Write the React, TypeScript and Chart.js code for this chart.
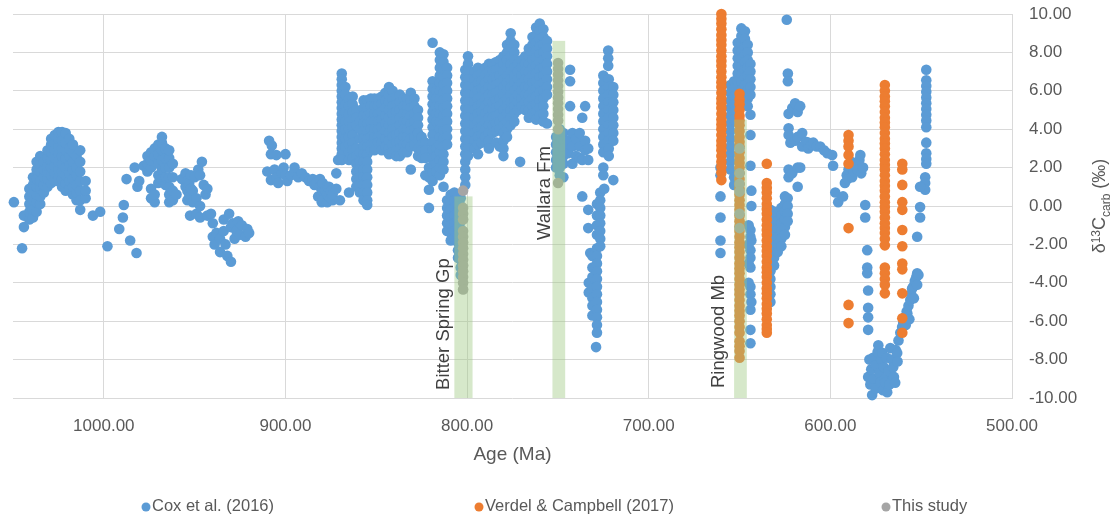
import React, { useEffect, useRef } from 'react';
import { Chart, registerables } from 'chart.js';

Chart.register(...registerables);

const FONT = "'Liberation Sans', Arial, sans-serif";
const AXIS_COLOR = '#595959';
const GRID_COLOR = '#d9d9d9';

// ---- axis ticks ----
const xTickValues = [1000, 900, 800, 700, 600, 500];
const xRange = [500, 1050];
const yRange = [-10, 10];
const yStep = 2;

// ---- series (age Ma, list of d13C values read at that age) ----
type Col = [number, number[]];

const coxEarly: Col[] = [
  [1049.5, [0.2]], [1045, [-2.2]], [1044, [-1.1, -0.5]],
  [1041, [-0.7, -0.3, 0.1, 0.5, 0.9]],
  [1039, [-0.6, -0.2, 0.3, 0.7, 1.1, 1.5]],
  [1037, [-0.3, 0.2, 0.6, 1.0, 1.4, 1.9, 2.3]],
  [1035, [0.1, 0.5, 0.9, 1.3, 1.8, 2.2, 2.6]],
  [1033, [0.7, 1.1, 1.5, 1.9, 2.3]],
  [1031, [1.0, 1.4, 1.8, 2.1, 2.5, 2.9]],
  [1029, [1.2, 1.6, 2.0, 2.4, 2.8, 3.2, 3.5]],
  [1027, [1.3, 1.7, 2.1, 2.5, 2.9, 3.3, 3.7]],
  [1025, [1.5, 1.9, 2.3, 2.7, 3.1, 3.5, 3.85]],
  [1023, [1.0, 1.4, 1.8, 2.2, 2.6, 3.0, 3.4, 3.85]],
  [1021, [0.8, 1.2, 1.6, 2.0, 2.5, 2.9, 3.3, 3.8]],
  [1019, [0.9, 1.3, 1.7, 2.1, 2.6, 3.0, 3.5]],
  [1017, [0.6, 1.0, 1.4, 1.9, 2.3, 2.8, 3.2]],
  [1015, [0.3, 0.7, 1.1, 1.6, 2.0, 2.6]],
  [1013, [-0.2, 0.3, 0.8, 1.3, 1.8, 2.3, 2.9]],
  [1010, [0.4, 0.8, 1.3]],
  [1006, [-0.5]], [1002, [-0.3]], [998, [-2.1]],
  [991.5, [-1.2]], [989.5, [-0.6]], [989, [0.05]], [987.5, [1.4]], [985.5, [-1.8]],
  [982, [-2.45]], [983, [2.0]], [981.5, [1.0]], [980.5, [1.3]], [978, [2.1]],
  [976, [1.8, 2.2, 2.6]],
  [974, [0.4, 0.9, 2.0, 2.4, 2.8]],
  [972, [0.2, 0.6, 2.6, 3.0]],
  [970, [1.2, 1.6, 2.2, 2.7, 3.2]],
  [968, [1.4, 1.9, 2.4, 2.9, 3.3, 3.6]],
  [966, [1.1, 1.5, 2.0, 2.5, 3.0]],
  [964, [0.2, 0.6, 1.0, 1.5, 2.0, 2.5, 2.9]],
  [962, [0.3, 0.8, 1.5, 2.2]],
  [960, [0.6]],
  [957, [1.4]], [955, [1.0, 1.7]], [954, [0.3, 0.8, 1.3]], [953, [0.5, 1.2]], [952.5, [-0.5]],
  [952, [0.9, 1.6]], [951, [0.2, 0.8]], [950, [1.5]], [949, [-0.4, 0.4]], [948, [1.9]],
  [947, [-0.6, 0.0, 1.6]], [946, [2.3]], [945, [1.1]], [944, [0.6]], [943, [-0.5, 0.9]], [941, [-0.4]],
  [940, [-1.6, -0.9]], [939, [-2.0]], [938, [-1.4]], [936, [-2.4, -1.7]], [934, [-1.3, -0.7]],
  [933, [-2.0]], [932, [-2.6]], [931, [-0.4]], [930, [-2.9, -1.1]], [929, [-0.9]], [928, [-1.7]],
  [927, [-1.3]], [926, [-0.8]], [925, [-1.5]], [924, [-1.0]], [922, [-1.6]], [921, [-1.2]], [920, [-1.4]],
];

const coxMid: Col[] = [
  [909, [3.4]], [907.5, [3.15]], [908, [2.7, 1.35]], [910, [1.8]], [906, [1.9]], [905, [1.5, 2.65]],
  [904, [1.2]], [902, [1.7]], [901, [2.0]], [900, [2.7, 1.6]], [899, [1.3]], [897, [1.6]],
  [895, [1.8, 2.0]], [893, [1.5]], [891, [1.7]], [889, [1.5]], [887, [1.3]], [885, [1.4]],
  [884, [1.1]], [883, [1.2]], [882, [0.5]], [881, [1.0, 1.4]], [880, [0.2, 0.6, 1.1]],
  [879.5, [0.3, 0.8, 1.2]], [878, [0.8]], [877, [0.2, 0.6, 1.0]], [876, [0.5, 1.0]], [875, [0.4, 0.8]],
  [874, [0.3, 0.6]], [872, [1.7, 0.9]], [871, [2.4]], [870, [0.3]],
  [869, [6.9, 6.6, 6.3, 6.0, 5.7, 5.4, 5.1, 4.8, 4.5, 4.2, 3.9, 3.6, 3.3, 3.0, 2.7, 2.4]],
  [867, [6.2, 5.8, 5.3, 4.9, 4.4, 4.0, 3.5, 3.1]],
  [865, [5.6, 5.2, 4.8, 4.4, 4.0, 3.6, 3.2, 2.8, 2.4, 0.7]],
  [863, [5.7, 5.3, 4.9, 4.5, 4.1, 3.7, 3.3, 2.9, 2.5]],
  [861, [5.0, 4.6, 4.2, 3.0, 2.6, 2.2, 1.8, 1.4, 1.0]],
  [859, [4.4, 4.0, 3.5, 2.8, 2.3, 1.9, 1.5, 1.1, 0.7]],
  [857, [5.5, 5.1, 4.7, 4.3, 3.9, 3.5, 3.1, 2.7, 2.3, 1.9, 1.5, 1.1, 0.7, 0.3]],
  [855, [5.5, 5.1, 4.7, 4.3, 3.9, 3.5, 3.1, 2.7, 2.3, 1.9, 1.5, 1.1, 0.7, 0.3, 0.05]],
  [853, [5.6, 5.2, 4.8, 4.4, 4.0, 3.6, 3.2, 2.9]],
  [851, [5.6, 5.2, 4.8, 4.4, 4.0, 3.6, 3.2, 2.9]],
  [849, [5.6, 5.2, 4.8, 4.4, 4.0, 3.6, 3.3]],
  [847, [5.7, 5.3, 4.9, 4.5, 4.1, 3.7, 3.3, 2.9]],
  [845, [5.9, 5.5, 5.1, 4.7, 4.3, 3.9, 3.5, 3.1]],
  [843, [6.2, 5.8, 5.4, 5.0, 4.6, 4.2, 3.8, 3.4, 3.0, 2.7]],
  [841, [6.0, 5.6, 5.2, 4.8, 4.4, 4.0, 3.6, 3.2, 2.8]],
  [839, [5.7, 5.3, 4.9, 4.5, 4.1, 3.7, 3.3, 2.9, 2.6]],
  [837, [5.8, 5.4, 5.0, 4.6, 4.2, 3.8, 3.4, 3.0, 2.6]],
  [835, [5.6, 5.2, 4.8, 4.4, 4.0, 3.6, 3.2, 2.8]],
  [833, [5.6, 5.2, 4.8, 4.4, 4.0, 3.6, 3.2, 2.8]],
  [831, [5.9, 5.5, 5.1, 4.7, 4.3, 3.9, 3.5, 3.1, 1.9]],
  [829, [5.6, 5.2, 4.8, 4.4, 4.0, 3.6, 3.2]],
  [827, [5.0, 4.6, 4.2, 3.8, 3.4, 3.0, 2.6]],
  [825, [3.6, 3.2, 2.9, 2.5]],
  [823, [3.3, 2.9, 2.5, 1.6]],
  [821, [2.0, 1.5, 0.85, -0.1]],
  [819, [8.5, 6.5, 6.1, 5.7, 5.3, 4.9, 4.5, 4.1, 3.7, 3.3, 2.9, 2.5, 2.1, 1.7, 1.3]],
  [817, [6.0, 5.6, 5.2, 4.8, 4.4, 3.0, 2.6, 2.2, 1.8]],
  [815, [8.0, 7.6, 7.2, 6.8, 6.4, 6.0, 5.6, 5.2, 4.8, 4.4, 4.0, 3.6, 3.2, 2.8, 2.4, 2.0, 1.6]],
  [813, [7.9, 7.5, 7.1, 6.7, 6.3, 5.9, 5.5, 5.1, 4.7, 4.3, 3.9, 3.5, 3.1, 2.7, 2.3, 1.9, 1.0]],
  [811, [7.2, 6.8, 6.4, 6.0, 5.6, 5.2, 4.8, 4.4, 4.0, 3.6, 3.2, 0.3, -0.1, -0.5, -0.9, -1.3]],
  [809, [0.6, 0.2, -0.2, -0.6, -1.0, -1.4, -1.8]],
  [807, [0.7, 0.3, -0.1, -0.5, -0.9, -1.3, -1.7]],
  [805, [0.5, 0.1, -0.3, -0.7, -1.1, -1.5, -1.9, -2.3, -2.7]],
  [803.5, [0.4, 0.0, -0.4, -0.8, -1.2, -1.6, -2.0, -2.4, -2.8, -3.2, -3.6]],
  [801, [7.1, 6.7, 6.3, 5.9, 5.5, 5.1, 4.7, 4.3, 3.9, 3.5, 3.1, 2.7, 2.3, 1.9, 1.5, 1.1]],
  [799.5, [7.8, 7.4, 7.0, 6.6, 6.2, 5.8, 5.4, 5.0, 4.6, 4.2, 3.8, 3.4, 3.0, 2.6]],
];

const coxLate: Col[] = [
  [796, [7.0, 6.6, 6.2, 5.8, 5.4, 5.0, 4.6, 4.2, 3.8, 3.4, 3.0]],
  [794, [7.2, 6.8, 6.4, 6.0, 5.6, 5.2, 4.8, 4.4, 4.0, 3.6, 3.2, 2.7]],
  [792, [6.9, 6.5, 6.1, 5.7, 5.3, 4.9, 4.5, 4.1, 3.7, 3.3]],
  [790, [7.2, 6.8, 6.4, 6.0, 5.6, 5.2, 4.8, 4.4, 4.0, 3.6]],
  [788, [7.4, 7.0, 6.6, 6.2, 5.8, 5.4, 5.0, 4.6, 4.2, 3.8, 3.4, 3.0]],
  [786, [7.4, 7.0, 6.6, 6.2, 5.8, 5.4, 5.0, 4.6, 4.2, 3.8]],
  [784, [7.5, 7.1, 6.7, 6.3, 5.9, 5.5, 5.1, 4.7, 4.3, 3.9, 3.3]],
  [782, [7.6, 7.2, 6.8, 6.4, 6.0, 5.6, 5.2, 4.8, 4.4, 4.0, 3.1]],
  [780, [7.8, 7.4, 7.0, 6.6, 6.2, 5.8, 5.4, 5.0, 4.6, 4.2, 3.8, 3.4, 3.0, 2.6]],
  [778, [8.4, 8.0, 7.6, 7.2, 6.8, 6.4, 6.0, 5.6, 5.2, 4.8, 4.4, 4.0, 3.6]],
  [776, [9.0, 8.6, 8.2, 7.8, 7.4, 7.0, 6.6, 6.2, 5.8, 5.4, 5.0, 4.6, 4.2]],
  [774, [8.4, 8.0, 7.6, 7.2, 6.8, 6.4, 6.0, 5.6, 5.2, 4.8, 4.4]],
  [772, [7.4, 7.0, 6.6, 6.2, 5.8, 5.4, 5.0]],
  [770.8, [2.3]],
  [770, [7.6, 7.2, 6.8, 6.4, 6.0, 5.6, 5.2]],
  [768, [7.8, 7.4, 7.0, 6.6, 6.2, 5.8, 5.4, 5.0]],
  [766, [8.2, 7.8, 7.4, 7.0, 6.6, 6.2, 5.8, 5.4, 5.0, 4.6]],
  [764, [8.8, 8.4, 8.0, 7.6, 7.2, 6.8, 6.4, 6.0, 5.6, 5.2, 4.8]],
  [762, [9.3, 8.9, 8.5, 8.1, 7.7, 7.3, 6.9, 6.5, 6.1, 5.7, 5.3, 4.9, 4.5]],
  [760, [9.5, 9.1, 8.7, 8.3, 7.9, 7.5, 7.1, 6.7, 6.3, 5.9, 5.5, 5.1, 4.7]],
  [758, [9.2, 8.8, 8.4, 8.0, 7.6, 7.2, 6.8, 6.4, 6.0, 5.6, 5.2, 4.8, 4.4]],
  [756, [8.6, 8.2, 7.8, 7.4, 7.0, 6.6, 6.2, 5.8, 4.3]],
  [751, [3.6, 3.2, 2.8, 2.4, 2.0]],
  [749, [4.0, 3.6, 3.2, 2.8, 2.4, 2.0, 1.6]],
  [747, [3.8, 3.4, 3.0, 2.6, 2.2, 1.5]],
  [744.4, [3.4, 2.75]],
  [743.3, [7.1, 6.5, 5.2]],
  [742, [3.8, 3.1, 2.2]],
  [740, [3.5, 2.6]],
  [738, [3.8, 3.1, 2.5]],
  [736.6, [4.6, 2.4, 0.5]],
  [735, [5.2, 3.4, 2.9]],
  [733.3, [3.0, 2.4, -0.2, -1.15]],
  [732.2, [-2.45]],
  [733, [-4.0, -4.5]],
  [731, [-2.6, -3.2, -3.7, -4.3, -4.8, -5.2, -5.7]],
  [729, [-7.35]],
  [728.5, [0.1, -0.5, -1.0, -1.5, -2.2, -2.6, -3.0, -3.4, -3.8, -4.2, -4.6, -5.0, -5.4, -5.8, -6.2, -6.6]],
  [726.7, [0.7, 0.3, -0.1, -0.5, -0.9, -1.3, -1.7, -2.1]],
  [724.5, [0.9]],
  [725, [6.8, 6.4, 6.0, 5.6, 5.2, 4.8, 4.4, 4.0, 3.6, 3.2, 2.8, 2.0, 1.6]],
  [722.3, [8.1, 7.7, 7.3]],
  [722, [6.6, 6.2, 5.8, 5.4, 5.0, 4.6, 4.2, 3.8, 3.4, 3.0, 2.6]],
  [719.5, [6.2, 5.8, 5.4, 5.0, 4.6, 4.2, 3.8, 3.4, 1.35]],
];

const coxYoung: Col[] = [
  [660.5, [2.0, 1.6, 0.5, -0.6, -1.8, -2.45]],
  [655, [6.3, 5.9, 5.5, 5.1, 4.7, 4.3, 3.9, 3.5, 3.1, 2.7, 2.3, 1.9]],
  [653, [6.5, 6.1, 5.7, 5.3, 4.9, 4.5, 1.5, 1.1]],
  [651, [8.5, 8.1, 7.7, 7.3, 6.9, 6.5]],
  [649, [9.25, 8.85, 8.45, 8.05, 7.65, 7.25, 6.85, 6.45, 6.05]],
  [647, [9.1, 8.7, 8.3, 7.9, 7.5, 7.1, 6.7, 6.3, 5.9]],
  [645.5, [8.4, 8.0, 7.6, 7.2, 6.8, 6.4, 6.0, 5.6, 5.2]],
  [644, [7.4, 7.0, 6.6, 6.2, 5.8, 4.75, 3.7, 2.1, -1.25, -1.6, -2.3, -2.7, -3.2, -4.2, -4.6, -5.4, -6.45, -7.15]],
  [643.5, [0.8, 0.0, -1.8, -5.0]],
  [645, [-2.0, -3.0, -4.0, -1.0]],
  [633, [-0.2, -0.6, -1.0, -1.4, -1.8, -2.2, -2.6, -3.0, -3.4, -3.8, -4.2, -4.6, -5.0]],
  [631, [-0.3, -0.7, -1.1, -1.5, -1.9, -2.3, -2.7, -3.1]],
  [629, [-0.4, -0.8, -1.2, -1.6, -2.0, -2.4]],
  [627, [-0.1, -0.5, -0.9, -1.3, -1.7, -2.1]],
  [625, [0.5, 0.1, -0.3, -0.7, -1.1, -1.5]],
  [623.5, [0.4, 0.0, -0.4, -0.8]],
  [624, [9.7]],
  [623.4, [6.9, 6.5]],
  [623, [4.8, 4.05, 3.7, 1.9, 1.5]],
  [622, [3.3]], [621, [5.1, 1.7]], [619.4, [5.35, 3.4]], [618, [4.9, 3.6, 2.0, 1.0]],
  [616.6, [5.2, 2.0]], [615.5, [3.8, 3.1]], [613.5, [3.35]], [612.2, [3.3, 3.0]], [610.5, [3.2]],
  [609.4, [3.3]], [607.5, [3.1]], [605.6, [3.1]], [603.5, [2.9]], [601.7, [2.75]], [599, [2.65]],
  [598.5, [2.1]], [597.3, [0.7]], [595.7, [0.2]], [593, [0.5]],
  [592, [1.2]], [591, [1.6]], [590.5, [1.4]], [590, [1.9]], [589, [2.0]], [588.5, [2.3]], [588, [1.5]],
  [587, [1.8]], [586, [2.2]], [585, [1.9]], [584, [2.4]], [583.5, [2.65]], [583, [1.7]], [582, [2.0]],
  [580.8, [0.05, -0.6]],
  [579.7, [-2.3, -3.2, -3.5]],
  [579.2, [-4.4, -5.3, -5.8, -6.45, -8.9]],
  [578.5, [-8.0]], [578, [-9.3]], [577, [-9.85]], [577.5, [-8.5]], [576.5, [-7.9]], [576, [-9.0]],
  [575, [-8.3, -9.5]], [574, [-7.6]], [573.6, [-7.25]], [573, [-8.7]], [572.5, [-9.2]], [572, [-8.0]],
  [571.4, [-7.65]], [571, [-9.6]], [570.5, [-8.4]], [570, [-9.0]], [569.8, [-9.2]], [569, [-7.9]],
  [568.7, [-9.7]], [568, [-8.6]], [567.5, [-9.3]], [567, [-7.4]], [566, [-8.0]], [565.4, [-8.4]],
  [565, [-8.9]], [564.3, [-9.2]], [564, [-7.5]], [563.2, [-7.65]], [563, [-8.1]], [562.5, [-7.0]],
  [561.5, [-6.6]], [560.5, [-6.3]], [559.9, [-6.1]], [559, [-5.8]], [558.5, [-6.2]], [558, [-5.5]],
  [557.6, [-5.6]], [557, [-5.2]], [556.5, [-5.9]], [556, [-4.9]], [555.5, [-4.6]], [555, [-4.3]],
  [554.4, [-4.2]], [554, [-4.8]], [553.5, [-3.9]], [552.7, [-3.7]], [552.2, [-3.5, -4.1, -1.6]], [551.5, [-3.6]],
  [547.2, [7.1, 6.55, 6.25, 5.95, 5.65, 5.35, 5.05, 4.75, 4.45, 4.1, 3.3, 2.75, 2.45, 2.2]],
  [547.8, [1.5, 1.2, 0.85]],
  [550.6, [1.0, -0.05, -0.6]],
];

const verdel: Col[] = [
  [660, [10.0, 9.75, 9.5, 9.2, 8.9, 8.65, 8.4, 8.1, 7.8, 7.55, 7.3, 7.0, 6.7, 6.45, 6.2, 5.9, 5.6, 5.35, 5.1, 4.8, 4.5, 4.25, 4.0, 3.7, 3.4, 3.15, 2.9, 2.6, 2.3, 2.05, 1.75, 1.35]],
  [650, [5.85, 5.55, 5.3, 5.0, 4.7, 4.45, 4.2, 3.9, 3.6, 3.35, 3.1, 2.8, 2.5, 2.25, 2.0, 1.7, 1.4, 1.15, 0.9, 0.6, 0.3, 0.05, -0.2, -0.5, -0.8, -1.05, -1.3, -1.6, -1.9, -2.15, -2.4, -2.7, -3.0, -3.25, -3.5, -3.8, -4.1, -4.35, -4.6, -4.9, -5.2, -5.45, -5.7, -6.0, -6.3, -6.6, -7.05, -7.3, -7.55, -7.9]],
  [635, [2.2, 1.2, 0.95, 0.7, 0.4, 0.1, -0.15, -0.4, -0.7, -1.0, -1.25, -1.5, -1.8, -2.1, -2.35, -2.6, -2.9, -3.2, -3.45, -3.7, -4.0, -4.3, -4.55, -4.8, -5.1, -5.35, -5.6, -5.9, -6.2, -6.4, -6.6]],
  [590, [3.7, 3.4, 3.1, 2.65, 2.2, -1.15, -5.15, -6.1]],
  [570, [6.3, 6.0, 5.7, 5.45, 5.2, 4.9, 4.6, 4.35, 4.1, 3.8, 3.5, 3.25, 3.0, 2.7, 2.4, 2.15, 1.9, 1.6, 1.3, 1.05, 0.8, 0.5, 0.2, -0.05, -0.3, -0.6, -0.9, -1.15, -1.4, -1.7, -2.05, -3.2, -3.5, -3.8, -4.1, -4.55]],
  [560.4, [2.2, 1.9, 1.1, 0.2, -0.2, -1.25, -2.1, -3.0, -3.3, -4.55, -5.85, -6.6]],
];

const thisStudy: Col[] = [
  [802.2, [0.8, -0.1, -0.4, -0.7, -1.3, -1.6, -1.9, -2.2, -2.5, -2.8, -3.1, -3.4, -3.7, -4.0, -4.35]],
  [749.9, [7.45, 7.15, 6.85, 6.55, 6.25, 5.95, 5.65, 5.35, 5.05, 4.75, 4.45, 4.0, 1.2]],
  [650, [3.0, 1.7, 1.15, 0.75, -0.4, -1.15]],
];

// ---- highlighted intervals ----
const bandNames = ['Bitter Spring Gp', 'Wallara Fm', 'Ringwood Mb'];
const bandOld = [807, 753, 653];
const bandYoung = [797, 746, 646];
const bandTop = [0.5, 8.6, 4.5];
const labelAge = [813, 757, 661.2];
const labelStart = [-9.58, -1.77, -9.48];

const seriesNames = ['Cox et al. (2016)', 'Verdel & Campbell (2017)', 'This study'];
const seriesColors = ['#5B9BD5', '#ED7D31', '#A5A5A5'];

const toPoints = (cols: Col[]) => cols.flatMap(([x, ys]) => ys.map((y) => ({ x, y })));

const legendX = [146, 479, 886];

const overlayPlugin = {
  id: 'overlay',
  afterDatasetsDraw(chart: any) {
    const { ctx, scales } = chart;
    const x = scales.x;
    const y = scales.y;
    ctx.save();
    ctx.fillStyle = 'rgba(157,200,128,0.42)';
    for (let i = 0; i < bandNames.length; i++) {
      const x1 = x.getPixelForValue(bandOld[i]);
      const x2 = x.getPixelForValue(bandYoung[i]);
      const yt = y.getPixelForValue(bandTop[i]);
      const yb = y.getPixelForValue(yRange[0]);
      ctx.fillRect(Math.min(x1, x2), yt, Math.abs(x2 - x1), yb - yt);
    }
    ctx.fillStyle = '#404040';
    ctx.font = `18.5px ${FONT}`;
    ctx.textBaseline = 'middle';
    ctx.textAlign = 'left';
    for (let i = 0; i < bandNames.length; i++) {
      const px = x.getPixelForValue(labelAge[i]);
      const py = y.getPixelForValue(labelStart[i]);
      ctx.save();
      ctx.translate(px, py);
      ctx.rotate(-Math.PI / 2);
      ctx.fillText(bandNames[i], 0, 0);
      ctx.restore();
    }
    ctx.restore();
  },
  afterDraw(chart: any) {
    const { ctx, chartArea } = chart;
    ctx.save();
    // x title
    ctx.fillStyle = AXIS_COLOR;
    ctx.font = `19px ${FONT}`;
    ctx.textAlign = 'center';
    ctx.textBaseline = 'middle';
    ctx.fillText('Age (Ma)', (chartArea.left + chartArea.right) / 2, 455);

    // y title with super/subscripts
    const parts = [
      { t: 'δ', s: 18, dy: 0 },
      { t: '13', s: 12, dy: -5.5 },
      { t: 'C', s: 18, dy: 0 },
      { t: 'carb', s: 12, dy: 4.5 },
      { t: ' (‰)', s: 18, dy: 0 },
    ];
    let total = 0;
    const widths = parts.map((p) => {
      ctx.font = `${p.s}px ${FONT}`;
      const w = ctx.measureText(p.t).width;
      total += w;
      return w;
    });
    ctx.translate(1105, (chartArea.top + chartArea.bottom) / 2);
    ctx.rotate(-Math.PI / 2);
    ctx.textAlign = 'left';
    ctx.textBaseline = 'alphabetic';
    let cx = -total / 2;
    parts.forEach((p, i) => {
      ctx.font = `${p.s}px ${FONT}`;
      ctx.fillText(p.t, cx, p.dy);
      cx += widths[i];
    });
    ctx.restore();

    // legend
    ctx.save();
    ctx.font = `16.5px ${FONT}`;
    ctx.textAlign = 'left';
    ctx.textBaseline = 'middle';
    chart.data.datasets.forEach((ds: any, i: number) => {
      const lx = legendX[i];
      const ly = 506;
      ctx.fillStyle = ds.backgroundColor;
      ctx.beginPath();
      ctx.arc(lx, ly + 1, 4.5, 0, Math.PI * 2);
      ctx.fill();
      ctx.fillStyle = AXIS_COLOR;
      ctx.fillText(ds.label, lx + 6, ly);
    });
    ctx.restore();
  },
};

export default function App() {
  const ref = useRef<HTMLCanvasElement | null>(null);
  useEffect(() => {
    if (!ref.current) return;
    const common = { pointRadius: 5.3, pointHoverRadius: 5.3, borderWidth: 0, clip: false as any };
    const chart = new Chart(ref.current, {
      type: 'scatter',
      data: {
        datasets: [
          { label: seriesNames[0], data: toPoints([...coxEarly, ...coxMid, ...coxLate, ...coxYoung]), backgroundColor: seriesColors[0], order: 3, ...common },
          { label: seriesNames[1], data: toPoints(verdel), backgroundColor: seriesColors[1], order: 2, ...common },
          { label: seriesNames[2], data: toPoints(thisStudy), backgroundColor: seriesColors[2], order: 1, ...common },
        ],
      },
      options: {
        animation: false,
        responsive: false,
        events: [],
        layout: { padding: { left: 13, top: 14, right: 0, bottom: 0 } },
        plugins: { legend: { display: false }, tooltip: { enabled: false } },
        scales: {
          x: {
            type: 'linear',
            reverse: true,
            min: xRange[0],
            max: xRange[1],
            afterBuildTicks: (s: any) => {
              s.ticks = xTickValues.map((v) => ({ value: v }));
            },
            afterFit: (s: any) => {
              s.height = 117;
              s.paddingLeft = 0;
              s.paddingRight = 0;
            },
            ticks: {
              autoSkip: false,
              maxRotation: 0,
              padding: 18,
              color: AXIS_COLOR,
              font: { family: FONT, size: 17 },
              callback: (v: any) => Number(v).toFixed(2),
            },
            grid: { color: GRID_COLOR, drawTicks: false, lineWidth: 1 },
            border: { display: false },
          },
          y: {
            position: 'right',
            min: yRange[0],
            max: yRange[1],
            afterFit: (s: any) => {
              s.width = 101;
              s.paddingTop = 0;
              s.paddingBottom = 0;
            },
            ticks: {
              stepSize: yStep,
              padding: 17,
              color: AXIS_COLOR,
              font: { family: FONT, size: 17 },
              callback: (v: any) => Number(v).toFixed(2),
            },
            grid: { color: GRID_COLOR, drawTicks: false, lineWidth: 1 },
            border: { display: true, color: GRID_COLOR },
          },
        },
      },
      plugins: [overlayPlugin],
    });
    return () => chart.destroy();
  }, []);
  return (
    <div style={{ position: 'absolute', left: 0, top: 0, width: 1113, height: 515, background: '#fff' }}>
      <canvas ref={ref} width={1113} height={515} style={{ display: 'block' }} />
    </div>
  );
}
